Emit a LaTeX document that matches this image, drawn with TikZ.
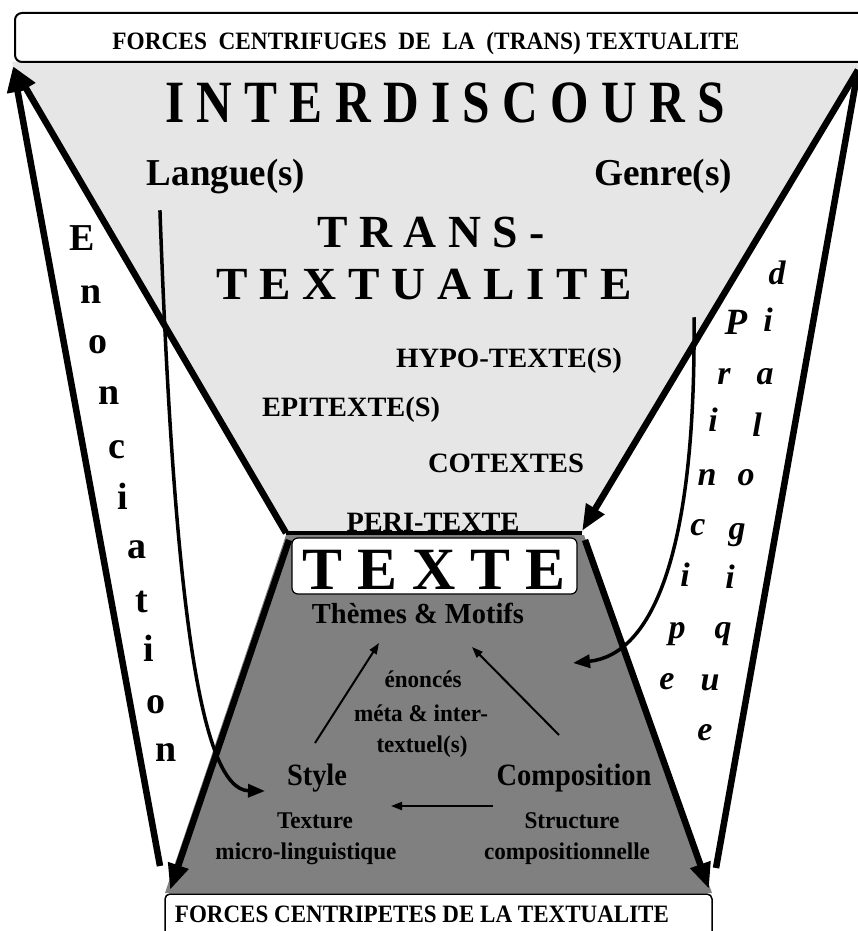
\documentclass[tikz,border=0pt]{standalone}
\usepackage{fontspec}
\setmainfont{Liberation Serif}
\usetikzlibrary{arrows.meta}
\definecolor{lightbg}{RGB}{230,230,230}
\definecolor{darkbg}{RGB}{128,128,128}
\newcommand\fitt[3]{\resizebox{#1pt}{\height}{\fontsize{#2}{#2}\selectfont #3}}
\begin{document}
\begin{tikzpicture}[x=1pt,y=-1pt,
  thickarr/.style={line width=6.5pt,-{Triangle[length=26pt,width=20pt]}},
  thickline/.style={line width=6.5pt},
  thinarr/.style={line width=2pt,-{Triangle[length=11pt,width=8pt]}},
  curvarr/.style={line width=3.5pt,line cap=rect,-{Triangle[length=17pt,width=13pt]}},
  lbl/.style={inner sep=0pt,anchor=base},
  vl/.style={inner sep=0pt,anchor=center,font=\fontsize{38}{38}\selectfont\bfseries},
  vi/.style={inner sep=0pt,anchor=center,font=\fontsize{34}{34}\selectfont\bfseries\itshape},
]
\useasboundingbox (0,0) rectangle (858,931);
\clip (0,0) rectangle (858,931);

% key coordinates
\coordinate (tl) at (13,66);
\coordinate (tr) at (858,70);
\coordinate (ltl) at (286,533);
\coordinate (ltr) at (582,533);
\coordinate (dbl) at (165,893);
\coordinate (dbr) at (712,893);

% background regions
\fill[lightbg] (12,62) -- (858,62) -- (tr) -- (ltr) -- (ltl) -- (tl) -- cycle;
\fill[darkbg] (286,535) -- (584,535) -- (dbr) -- (dbl) -- cycle;
\draw[line width=4pt] (ltl) -- (ltr);

% boxes
\draw[line width=2pt,rounded corners=7pt,fill=white] (15,13) rectangle (890,62);
\draw[line width=1.2pt,rounded corners=6pt,fill=white] (292,538) rectangle (577,594);
\draw[line width=1.5pt,rounded corners=5pt,fill=white] (165,894) rectangle (712,950);

% thick arrows
\coordinate (lo) at (160,866);
\coordinate (ro) at (716,868);
\coordinate (dl) at (289,540);
\coordinate (dr) at (585,540);
\coordinate (dlt) at (170,890);
\coordinate (drt) at (709,889);
\coordinate (rtip) at (582,531);
\draw[thickarr] (ltl) -- (tl);
\draw[thickarr] (lo) -- (tl);
\draw[thickarr] (tr) -- (rtip);
\draw[thickline] (tr) -- (ro);
\draw[thickarr] (dl) -- (dlt);
\draw[thickarr] (dr) -- (drt);

% curved arrows
\coordinate (lg) at (160,212);
\coordinate (lgend) at (265,791);
\draw[curvarr] (lg) .. controls (174,600) and (200,790) .. (lgend);
\coordinate (gn) at (694,319);
\coordinate (gnend) at (573,663);
\draw[curvarr] (gn) .. controls (696,560) and (650,655) .. (gnend);

% inner arrows
\coordinate (s1) at (315,743);
\coordinate (t1) at (379,643);
\coordinate (c1) at (559,735);
\coordinate (t2) at (472,647);
\coordinate (c2) at (493,806);
\coordinate (s2) at (391,806);
\draw[thinarr] (s1) -- (t1);
\draw[thinarr] (c1) -- (t2);
\draw[thinarr] (c2) -- (s2);

% texts
\node[lbl] (cf) at (426,50) {\fitt{627}{25}{\bfseries FORCES\hspace{0.5em}CENTRIFUGES\hspace{0.5em}DE\hspace{0.5em}LA\hspace{0.5em}(TRANS) TEXTUALITE}};
\node[lbl] (inter) at (445,123) {\fitt{560}{60}{\bfseries I N T E R D I S C O U R S}};
\node[lbl] (langue) at (226,185) {\fitt{158}{38}{\bfseries Langue(s)}};
\node[lbl] (genre) at (663,185) {\fitt{138}{38}{\bfseries Genre(s)}};
\node[lbl] (trans) at (431,247) {\fitt{227}{46}{\bfseries T R A N S -}};
\node[lbl] (textu) at (424,299) {\fitt{415}{46}{\bfseries T E X T U A L I T E}};
\node[lbl] (hypo) at (509,367) {\fitt{226}{28}{\bfseries HYPO-TEXTE(S)}};
\node[lbl] (epi) at (351,416) {\fitt{178}{28}{\bfseries EPITEXTE(S)}};
\node[lbl] (cotex) at (506,472) {\fitt{156}{28}{\bfseries COTEXTES}};
\node[lbl] (peri) at (433,531) {\fitt{173}{28}{\bfseries PERI-TEXTE}};
\node[lbl] (texte) at (434,589) {\fitt{263}{60}{\bfseries T E X T E}};
\node[lbl] (themes) at (418,623) {\fitt{212}{29}{\bfseries Thèmes \& Motifs}};
\node[lbl] (enon) at (423,687) {\fitt{77}{24}{\bfseries énoncés}};
\node[lbl] (meta) at (421,721) {\fitt{134}{24}{\bfseries méta \& inter-}};
\node[lbl] (textuel) at (422,752) {\fitt{91}{24}{\bfseries textuel(s)}};
\node[lbl] (style) at (317,785) {\fitt{60}{31}{\bfseries Style}};
\node[lbl] (compo) at (574,785) {\fitt{155}{31}{\bfseries Composition}};
\node[lbl] (texture) at (315,828) {\fitt{76}{24}{\bfseries Texture}};
\node[lbl] (micro) at (306,859) {\fitt{181}{24}{\bfseries micro-linguistique}};
\node[lbl] (struct) at (572,828) {\fitt{95}{24}{\bfseries Structure}};
\node[lbl] (compos) at (567,859) {\fitt{166}{24}{\bfseries compositionnelle}};
\node[lbl] (cp) at (422,922) {\fitt{494}{25}{\bfseries FORCES CENTRIPETES DE LA TEXTUALITE}};

% Enonciation (vertical)
\node[vl] (e1) at (82,238) {E};
\node[vl] (e2) at (91,295) {n};
\node[vl] (e3) at (98,345) {o};
\node[vl] (e4) at (109,396) {n};
\node[vl] (e5) at (117,450) {c};
\node[vl] (e6) at (123,496) {i};
\node[vl] (e7) at (137,550) {a};
\node[vl] (e8) at (142,602) {t};
\node[vl] (e9) at (149,648) {i};
\node[vl] (e10) at (156,705) {o};
\node[vl] (e11) at (166,753) {n};

% Principe (vertical)
\node[vi,font=\fontsize{37}{37}\selectfont\bfseries\itshape] (p1) at (736,322) {P};
\node[vi] (p2) at (724,376) {r};
\node[vi] (p3) at (713,420) {i};
\node[vi] (p4) at (707,477) {n};
\node[vi] (p5) at (698,528) {c};
\node[vi] (p6) at (685,575) {i};
\node[vi] (p7) at (677,634) {p};
\node[vi] (p8) at (667,682) {e};

% dialogique (vertical)
\node[vi] (d1) at (777,273) {d};
\node[vi] (d2) at (768,320) {i};
\node[vi] (d3) at (765,377) {a};
\node[vi] (d4) at (757,425) {l};
\node[vi] (d5) at (746,478) {o};
\node[vi] (d6) at (737,535) {g};
\node[vi] (d7) at (730,577) {i};
\node[vi] (d8) at (723,634) {q};
\node[vi] (d9) at (710,683) {u};
\node[vi] (d10) at (705,733) {e};
\end{tikzpicture}
\end{document}
